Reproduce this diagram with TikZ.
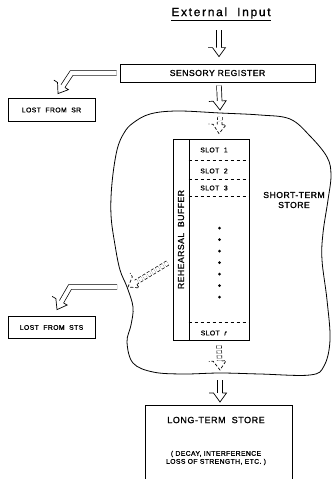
\documentclass[tikz,border=0pt]{standalone}
\usepackage{fontspec}
\setmainfont{Liberation Sans}
\newfontfamily\lblfont[LetterSpace=6, FakeBold=1.2]{Liberation Sans}
\newfontfamily\extfont[LetterSpace=14, FakeBold=1.2]{Liberation Sans}
\usetikzlibrary{positioning,calc,decorations.markings}

\begin{document}
\begin{tikzpicture}[
    x=1pt, y=-1pt,
    box/.style={rectangle, draw, line width=0.8pt, inner sep=0pt},
    caps/.style={font=\lblfont\fontsize{8.6}{10}\selectfont},
    slot/.style={font=\lblfont\fontsize{6.8}{8}\selectfont},
    hollow/.style={double, double distance=4pt, line width=0.7pt, shorten >=8.5pt,
        postaction={decorate}, decoration={markings, mark=at position 1 with
        {\draw[line width=0.7pt, solid, fill=white] (-9pt,2.35pt) -- (-9pt,6.5pt) -- (0pt,0pt) -- (-9pt,-6.5pt) -- (-9pt,-2.35pt);}}},
    hollowd/.style={double, double distance=4pt, line width=0.7pt, dash pattern=on 3pt off 2pt, shorten >=8.5pt,
        postaction={decorate}, decoration={markings, mark=at position 1 with
        {\draw[line width=0.7pt, dash pattern=on 3pt off 2pt, fill=white] (-9pt,2.35pt) -- (-9pt,6.5pt) -- (0pt,0pt) -- (-9pt,-6.5pt) -- (-9pt,-2.35pt);}}},
]
    \useasboundingbox (0,0) rectangle (333,479);

    % the short-term store
    \draw[line width=0.8pt] plot[smooth cycle, tension=0.6] coordinates {
        (117,150) (124,133) (133,123) (150,114) (177,111) (220,113) (260,115)
        (290,119) (310,136) (327,157) (331,175) (328,200) (323,233) (322,260)
        (327,300) (330,340) (324,366) (310,375) (260,374) (220,373) (183,374)
        (153,372) (133,363) (127,342) (131,325) (133,307) (127,287) (120,270)
        (115,245) (111,215) (112,183)};

    \node[font=\extfont\fontsize{12}{14}\selectfont] (ext) at (221,14) {\underline{External\ \ Input}};
    \node[box, caps, minimum width=195, minimum height=18] (sr) at (217.5,73) {SENSORY REGISTER};
    \node[box, slot, minimum width=87, minimum height=23] (lostsr) at (51.5,110) {LOST\ \ FROM\ \ SR};
    \node[box, slot, minimum width=87, minimum height=22] (loststs) at (51.5,327.5) {LOST\ \ FROM\ \ STS};

    % rehearsal buffer
    \node[box, minimum width=16, minimum height=201] (lbl) at (181,239.5) {};
    \node[caps, rotate=90] (rb) at (lbl.center) {REHEARSAL\ \ BUFFER};
    \node[box, minimum width=60, minimum height=201] (col) at (219,239.5) {};
    \node[slot] (slot1) at (214,150) {SLOT\ \ 1};
    \node[slot] (slot2) at (214,171) {SLOT\ \ 2};
    \node[slot] (slot3) at (214,188) {SLOT\ \ 3};
    \node[slot] (slotr) at (214,333) {SLOT\ \ \textit{r}};
    \foreach \dy in {22,41,58,184}
        \draw[dashed, line width=0.7pt] ($(col.north west)+(0,\dy)$) -- ($(col.north east)+(0,\dy)$);
    \foreach \k in {0,...,6}
        \fill (219.5,{228+11.5*\k}) circle (1.5pt);

    \node[caps, align=center] (sts) at (294,200) {SHORT-TERM\\STORE};

    \node[box, minimum width=147, minimum height=90, anchor=north] (lts) at (218.5,405) {};
    \node[font=\lblfont\fontsize{9}{10}\selectfont] (ltsname) at (216,420) {LONG-TERM\ \ STORE};
    \node[slot, align=center] (ltsnote) at (216,458) {( DECAY, INTERFERENCE\\LOSS OF STRENGTH, ETC. )};

    \coordinate (stsin) at (220,112);
    \coordinate (stsleft) at (128,287);
    \coordinate (stsout) at (220,376);

    \draw[hollow] ($(ext.south -| col.north)+(0,6)$) -- ($(sr.north -| col.north)+(0,-7)$);
    \draw[hollow] ($(sr.south -| col.north)+(0,3)$) -- ($(stsin)+(0,-2)$);
    \draw[hollowd] ($(stsin)+(0,5)$) -- ($(col.north)+(0,-5)$);
    \draw[hollow] ($(sr.west)+(-3,0)$) -- ++(-45,0) -- ($(lostsr.north)+(6.5,-4.5)$);
    \draw[hollowd] ($(lbl.west)+(-5,23.5)$) -- (stsleft);
    \draw[hollow] ($(stsleft)+(-11,0)$) -- ++(-47,0) -- ($(loststs.north)+(5.5,-6.5)$);
    \draw[hollowd] ($(col.south)+(0,5)$) -- ($(stsout)+(0,-6)$);
    \draw[hollow] ($(stsout)+(0,4)$) -- ($(lts.north)+(1.5,-3)$);
\end{tikzpicture}
\end{document}
